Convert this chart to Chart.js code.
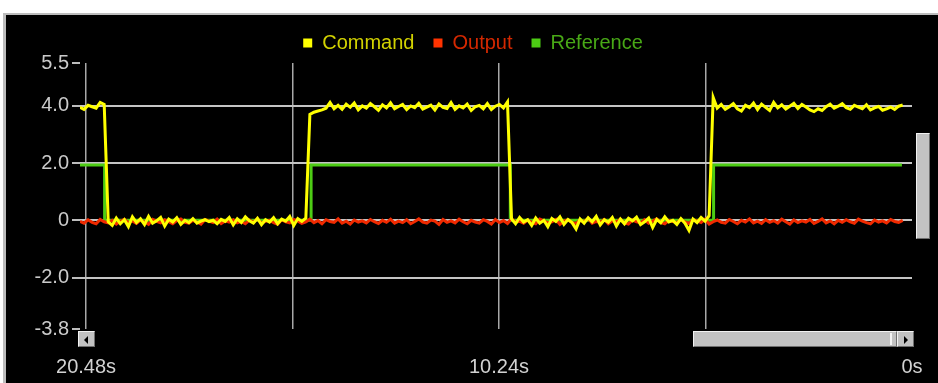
<!DOCTYPE html>
<html>
<head>
<meta charset="utf-8">
<script src="https://cdn.jsdelivr.net/npm/chart.js@4.4.1/dist/chart.umd.min.js"></script>
<style>
  html, body { margin: 0; padding: 0; background: #fff; width: 938px; height: 383px; overflow: hidden; }
  #painel { position: absolute; left: 3px; top: 13px; width: 935px; height: 370px; background: #000;
            border-top: 2px solid #bcbcbc; border-left: 3px solid #bcbcbc; box-sizing: border-box; }
  #grafico { position: absolute; left: 0; top: 0; }
  .peca { position: absolute; background: #c2c2c2; box-sizing: border-box;
          border: 1px solid; border-color: #f2f2f2 #6e6e6e #6e6e6e #f2f2f2; }
  .seta-esq { position: absolute; left: 5px; top: 4px; width: 0; height: 0;
              border-top: 4px solid transparent; border-bottom: 4px solid transparent; border-right: 4px solid #000; }
  .seta-dir { position: absolute; left: 6px; top: 4px; width: 0; height: 0;
              border-top: 4px solid transparent; border-bottom: 4px solid transparent; border-left: 4px solid #000; }
</style>
</head>
<body>
<div id="painel"></div>
<canvas id="grafico" width="938" height="383"></canvas>

<!-- barras de rolagem (só enfeite) -->
<div class="peca" style="left:78px; top:331px; width:17px; height:16px;"><div class="seta-esq"></div></div>
<div class="peca" style="left:693px; top:331px; width:204px; height:16px;"></div>
<div style="position:absolute; left:890px; top:333px; width:2px; height:12px; background:#f4f4f4;"></div>
<div class="peca" style="left:897px; top:331px; width:17px; height:16px;"><div class="seta-dir"></div></div>
<div class="peca" style="left:916px; top:133px; width:14px; height:106px;"></div>

<script>
// Amostras: a primeira em 20.63s, depois a cada 0.1s
const inicioAmostras = 20.63;
const passoAmostras = 0.1;

// Command (amarelo)
const valoresCommand = [
    3.95, 3.88, 4.02, 3.97, 3.92, 4.12, 4.05,
    -0.05, -0.18, 0.08, -0.12, 0.02, -0.22, 0.12, -0.08, 0.05, -0.15,
    0.14, -0.1, -0.02, 0.1, -0.2, 0.04, -0.06, 0.09, -0.14, 0.0,
    -0.08, 0.06, -0.1, -0.03, 0.02, -0.05, 0.0, -0.12, 0.03, -0.04,
    0.1, -0.16, 0.05, -0.08, 0.12, -0.02, -0.1, 0.07, -0.15, 0.02,
    -0.06, 0.09, -0.12, 0.04, -0.03, 0.13, -0.18, 0.06, -0.04, 0.08,
    3.7, 3.78, 3.82, 3.86, 3.92, 4.12, 3.9, 4.02, 3.88, 4.06,
    3.95, 4.1, 3.86, 4.0, 3.92, 4.08, 3.97, 3.85, 4.04, 3.93,
    4.11, 3.9, 3.98, 4.05, 3.87, 4.0, 3.94, 4.09, 3.89, 3.96,
    4.03, 3.86, 4.07, 3.95, 3.91, 4.12, 3.88, 4.0, 3.93, 4.06,
    3.84, 3.97, 4.02, 3.9, 4.08, 3.87, 3.99, 4.05, 3.93, 4.14,
    0.05, -0.12, 0.1, -0.06, 0.02, -0.18, 0.08, -0.1, 0.0, -0.22,
    0.06, -0.04, 0.12, -0.14, 0.03, -0.08, -0.3, 0.05, -0.1, 0.09,
    -0.05, 0.14, -0.16, 0.02, -0.07, 0.1, -0.2, 0.04, -0.12, 0.07,
    -0.02, 0.11, -0.15, -0.05, 0.08, -0.25, 0.03, -0.09, 0.12, -0.06,
    0.0, -0.14, 0.06, -0.1, -0.35, 0.04, -0.08, 0.1, -0.03, 0.16,
    4.3, 3.92, 4.05, 3.88, 3.97, 4.08, 3.9, 3.82, 4.02, 3.94,
    4.1, 3.87, 4.06, 3.95, 3.84, 4.12, 3.93, 4.04, 3.89, 3.99,
    4.09, 3.91, 4.05, 3.96, 3.86, 3.8, 3.9, 3.84, 3.97, 4.06,
    3.92, 3.99, 4.08, 3.94, 3.88, 4.02, 3.96, 3.9, 4.04, 3.86,
    3.93, 3.98, 3.85, 3.9, 3.96, 3.88, 3.99, 4.03
];

// Output (vermelho)
const valoresOutput = [
    -0.04, -0.1, 0.02, -0.07, -0.12, 0.03, -0.05, -0.09, 0.0, -0.13,
    -0.03, 0.04, -0.08, -0.02, -0.11, 0.01, -0.06, -0.14, 0.03, -0.04,
    -0.09, 0.02, -0.05, -0.12, -0.01, 0.05, -0.07, -0.1, 0.0, -0.06,
    -0.13, 0.03, -0.03, -0.08, 0.04, -0.11, -0.02, -0.06, 0.02, -0.09,
    -0.04, -0.12, 0.01, -0.07, 0.05, -0.1, -0.03, 0.0, -0.08, -0.14,
    0.02, -0.05, -0.09, 0.03, -0.02, -0.11, -0.06, 0.04, -0.08, -0.01,
    -0.12, 0.02, -0.04, -0.07, 0.05, -0.1, -0.03, -0.13, 0.01, -0.06,
    -0.02, -0.09, 0.03, -0.05, -0.11, 0.0, -0.07, 0.04, -0.1, -0.03,
    -0.08, 0.02, -0.12, -0.04, 0.05, -0.06, -0.1, 0.01, -0.03, -0.14,
    0.03, -0.07, -0.02, -0.09, 0.04, -0.05, -0.12, 0.0, -0.06, -0.1,
    0.02, -0.04, -0.13, 0.03, -0.08, -0.01, -0.11, 0.05, -0.06, -0.03,
    -0.1, 0.01, -0.07, -0.12, 0.04, -0.02, -0.09, -0.05, 0.03, -0.14,
    -0.03, 0.02, -0.08, -0.11, 0.0, -0.05, 0.06, -0.1, -0.04, -0.07,
    0.03, -0.12, -0.02, -0.06, 0.04, -0.09, -0.13, 0.01, -0.05, -0.08,
    0.02, -0.1, -0.03, 0.05, -0.07, -0.12, 0.0, -0.04, -0.09, 0.03,
    -0.06, -0.11, 0.02, -0.02, -0.08, 0.04, -0.13, -0.05, 0.01, -0.07,
    -0.1, 0.03, -0.04, -0.12, 0.0, -0.06, 0.05, -0.09, -0.03, -0.11,
    0.02, -0.07, -0.01, -0.1, 0.04, -0.05, -0.13, 0.01, -0.08, -0.02,
    -0.06, 0.03, -0.11, -0.04, 0.05, -0.09, -0.02, -0.12, 0.0, -0.07,
    0.02, -0.05, -0.1, 0.04, -0.03, -0.08, -0.12, 0.01, -0.06, -0.02,
    -0.09, 0.03, -0.04, -0.07, 0.0
];

// Reference (verde): cantos do degrau
const temposReference = [20.66, 20.02, 20.02, 14.9, 14.9, 9.96, 9.96, 4.92, 4.92, 0.25];
const valoresReference = [1.93, 1.93, 0, 0, 1.93, 1.93, 0, 0, 1.93, 1.93];

// Eixos
const ticksX = [20.48, 15.36, 10.24, 5.12, 0];
const rotulosX = ['20.48s', '', '10.24s', '', '0s'];
const ticksY = [-3.8, -2, 0, 2, 4, 5.5];
const rotulosY = ['-3.8', '-2.0', '0', '2.0', '4.0', '5.5'];

const fonte = { family: "'Liberation Sans', Arial, sans-serif", size: 20 };

function montarPontos(valores) {
    return valores.map((v, i) => ({ x: inicioAmostras - i * passoAmostras, y: v }));
}

// Cor do quadrado e cor do texto da legenda são diferentes
const coresTextoLegenda = ['#d2d200', '#d42800', '#48a816'];

const deslocaLegenda = {
    id: 'deslocaLegenda',
    afterLayout(chart) {
        if (chart.legend) {
            chart.legend.left += 17;
            chart.legend.right += 17;
        }
    }
};

new Chart(document.getElementById('grafico').getContext('2d'), {
    type: 'line',
    data: {
        datasets: [
            {
                label: 'Command',
                data: montarPontos(valoresCommand),
                borderColor: '#ffff00',
                backgroundColor: '#ffff00',
                borderWidth: 3
            },
            {
                label: 'Output',
                data: montarPontos(valoresOutput),
                borderColor: '#f02a00',
                backgroundColor: '#ff3300',
                borderWidth: 3
            },
            {
                label: 'Reference',
                data: temposReference.map((t, i) => ({ x: t, y: valoresReference[i] })),
                borderColor: '#4ccc14',
                backgroundColor: '#4ccc14',
                borderWidth: 3
            }
        ]
    },
    options: {
        responsive: false,
        animation: false,
        events: [],
        elements: { point: { radius: 0 }, line: { tension: 0, borderJoinStyle: 'miter' } },
        layout: { padding: { left: 0, top: 14, right: 26, bottom: 0 } },
        plugins: {
            tooltip: { enabled: false },
            legend: {
                position: 'top',
                labels: {
                    font: fonte,
                    boxWidth: 9,
                    boxHeight: 9,
                    padding: 19,
                    generateLabels(chart) {
                        return chart.data.datasets.map((ds, i) => ({
                            text: ds.label,
                            fillStyle: ds.backgroundColor,
                            strokeStyle: ds.backgroundColor,
                            lineWidth: 0,
                            fontColor: coresTextoLegenda[i],
                            hidden: false,
                            datasetIndex: i
                        }));
                    }
                }
            }
        },
        scales: {
            x: {
                type: 'linear',
                reverse: true,
                min: 0,
                max: 20.63,
                afterBuildTicks: (eixo) => { eixo.ticks = ticksX.map(v => ({ value: v })); },
                afterFit: (eixo) => {
                    eixo.height = 54;
                    eixo.paddingLeft = 0;
                    eixo.paddingRight = 0;
                },
                ticks: {
                    autoSkip: false,
                    maxRotation: 0,
                    padding: 26,
                    color: '#d2d2d2',
                    font: fonte,
                    callback: (valor, indice) => rotulosX[indice]
                },
                grid: {
                    drawTicks: false,
                    lineWidth: 1.5,
                    color: (ctx) => (ctx.tick && ctx.tick.value === 0) ? 'rgba(0,0,0,0)' : '#a8a8a8'
                },
                border: { display: false }
            },
            y: {
                min: -3.8,
                max: 5.5,
                afterBuildTicks: (eixo) => { eixo.ticks = ticksY.map(v => ({ value: v })); },
                afterFit: (eixo) => {
                    eixo.width = 80;
                    eixo.paddingTop = 0;
                    eixo.paddingBottom = 0;
                },
                ticks: {
                    autoSkip: false,
                    padding: 3,
                    color: '#cacaca',
                    font: fonte,
                    callback: (valor, indice) => rotulosY[indice]
                },
                grid: {
                    tickLength: 8,
                    lineWidth: 2,
                    tickColor: '#bdbdbd',
                    color: (ctx) => (ctx.tick && (ctx.tick.value === 5.5 || ctx.tick.value === -3.8)) ? 'rgba(0,0,0,0)' : '#c4c4c4'
                },
                border: { display: false }
            }
        }
    },
    plugins: [deslocaLegenda]
});
</script>
</body>
</html>
